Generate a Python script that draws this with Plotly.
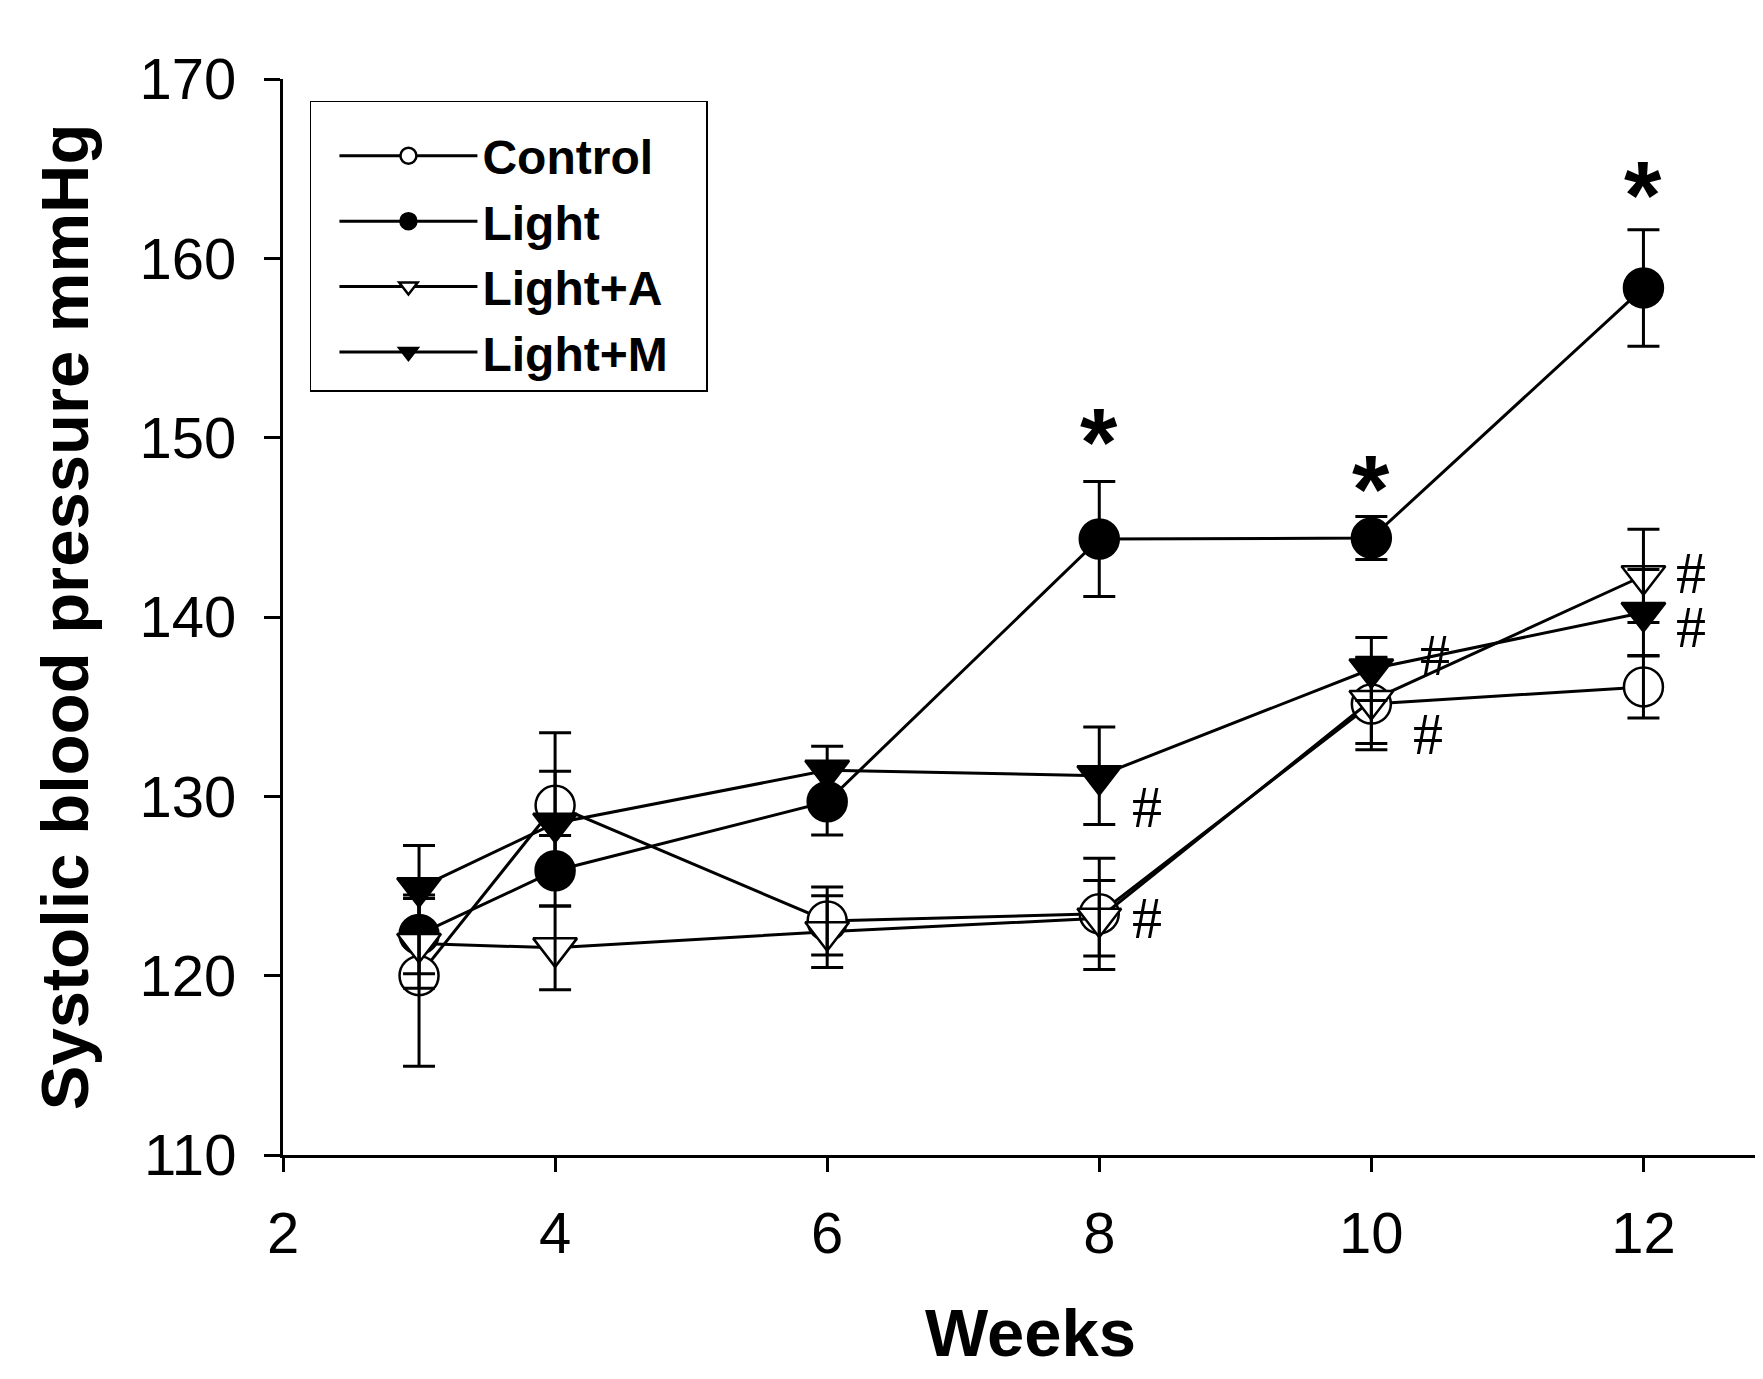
import plotly.graph_objects as go

# ---- data ----
weeks = [3, 4, 6, 8, 10, 12]

control = [120.0, 129.5, 123.05, 123.45, 135.15, 136.1]
control_err = [5.05, 4.05, 1.9, 3.1, 2.55, 1.73]

light = [122.3, 125.85, 129.7, 144.35, 144.4, 158.35]
light_err = [2.2, 1.97, 1.86, 3.2, 1.2, 3.25]

light_a = [121.8, 121.55, 122.45, 123.2, 135.35, 142.3]
light_a_err = [2.5, 2.34, 2.0, 2.1, 2.4, 2.6]

light_m = [124.9, 128.5, 131.45, 131.15, 137.1, 140.25]
light_m_err = [2.36, 2.9, 1.34, 2.72, 1.75, 2.4]

series_names = ["Control", "Light", "Light+A", "Light+M"]

star_x = [8, 10, 12]
star_y = [150.6, 148.0, 164.4]

hash_x = [8.35, 8.35, 10.47, 10.42, 12.35, 12.35]
hash_y = [129.42, 123.19, 137.87, 133.5, 142.45, 139.45]

x_ticks = [2, 4, 6, 8, 10, 12]
y_ticks = [110, 120, 130, 140, 150, 160, 170]

x_title = "Weeks"
y_title = "Systolic blood pressure mmHg"

# ---- styling ----
SANS = "Liberation Sans, Arial, sans-serif"
SERIF = "Liberation Serif, Times New Roman, serif"

styles = [
    dict(symbol="circle", color="white", size=39),
    dict(symbol="circle", color="black", size=39),
    dict(symbol="triangle-down", color="white", size=38),
    dict(symbol="triangle-down", color="black", size=38),
]
values = [control, light, light_a, light_m]
errors = [control_err, light_err, light_a_err, light_m_err]

fig = go.Figure()

for name, vals, st in zip(series_names, values, styles):
    fig.add_trace(go.Scatter(
        x=weeks, y=vals, name=name, mode="lines+markers",
        line=dict(color="black", width=3),
        marker=dict(symbol=st["symbol"], size=st["size"], color=st["color"],
                    line=dict(color="black", width=2.5)),
    ))

# error bars drawn on top of all markers
for name, vals, errs in zip(series_names, values, errors):
    fig.add_trace(go.Scatter(
        x=weeks, y=vals, mode="markers", showlegend=False, hoverinfo="skip",
        marker=dict(size=1, opacity=0),
        error_y=dict(type="data", array=errs, symmetric=True,
                     color="black", thickness=3, width=16),
    ))

for xs, ys in zip(star_x, star_y):
    fig.add_annotation(x=xs, y=ys, text="*", showarrow=False,
                       font=dict(family=SANS, size=96, color="black", weight="bold"),
                       xanchor="center", yanchor="middle", yshift=-15)

for xs, ys in zip(hash_x, hash_y):
    fig.add_annotation(x=xs, y=ys, text="#", showarrow=False, height=44,
                       font=dict(family=SERIF, size=60, color="black"),
                       xanchor="center", yanchor="middle", valign="middle")

# x-axis title placed as a paper-referenced label
fig.add_annotation(xref="paper", yref="paper", x=0.5075, y=-0.1654,
                   text=x_title, showarrow=False, xanchor="center", yanchor="middle",
                   font=dict(family=SANS, size=67, color="black", weight="bold"))

# invisible spacer title widens the legend box like the reference
spacer = "&nbsp;" * 117

fig.update_layout(
    width=1747, height=1363,
    margin=dict(l=275, r=0, t=71, b=216, pad=0),
    paper_bgcolor="white", plot_bgcolor="white",
    showlegend=True,
    legend=dict(
        x=0.0183, y=0.9796, xanchor="left", yanchor="top",
        bordercolor="black", borderwidth=1.5, bgcolor="white",
        font=dict(family=SANS, size=48, color="black", weight="bold"),
        title=dict(text=spacer, font=dict(family=SANS, size=12, color="white")),
        itemwidth=138, indentation=23,
        tracegroupgap=0,
    ),
    font=dict(family=SANS, color="black"),
)

fig.update_xaxes(
    range=[2, 12.82], tickvals=x_ticks, ticktext=[str(v) for v in x_ticks],
    showline=True, linecolor="black", linewidth=3,
    ticks="outside", ticklen=14, tickwidth=2.5, tickcolor="black",
    tickfont=dict(family=SANS, size=58, color="black"),
    ticklabelstandoff=11,
    showgrid=False, zeroline=False,
)
fig.update_yaxes(
    range=[110, 170], tickvals=y_ticks, ticktext=[str(v) for v in y_ticks],
    showline=True, linecolor="black", linewidth=3,
    ticks="outside", ticklen=16, tickwidth=2.5, tickcolor="black",
    tickfont=dict(family=SANS, size=58, color="black"),
    ticklabelstandoff=16,
    showgrid=False, zeroline=False,
    title=dict(text=y_title,
               font=dict(family=SANS, size=67, color="black", weight="bold"),
               standoff=30),
)

fig.write_html("out.html")
